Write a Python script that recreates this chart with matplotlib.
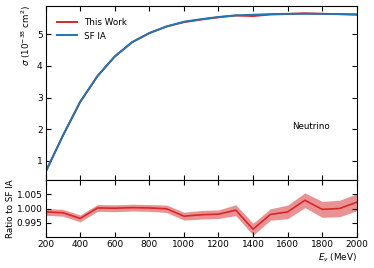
import numpy as np
import matplotlib
matplotlib.use("Agg")
import matplotlib.pyplot as plt

energy = [200, 300, 400, 500, 600, 700, 800, 900, 1000, 1100, 1200, 1300,
          1400, 1500, 1600, 1700, 1800, 1900, 2000]
sf_ia = [0.65, 1.80, 2.87, 3.68, 4.30, 4.75, 5.04, 5.25, 5.40, 5.48, 5.55,
         5.60, 5.62, 5.64, 5.65, 5.65, 5.65, 5.64, 5.62]
ratio = [0.9988, 0.9985, 0.9965, 1.0002, 1.0001, 1.0003, 1.0002, 0.9999,
         0.9973, 0.9978, 0.9980, 0.9994, 0.9927, 0.9979, 0.9988, 1.0029,
         0.9997, 1.0000, 1.0022]
ratio_err = [0.0012, 0.0012, 0.0012, 0.0012, 0.0012, 0.0012, 0.0012, 0.0013,
             0.0014, 0.0015, 0.0015, 0.0019, 0.0021, 0.0020, 0.0024, 0.0026,
             0.0028, 0.0029, 0.0030]

E = np.array(energy)
sf = np.array(sf_ia)
r = np.array(ratio)
re = np.array(ratio_err)
this_work = sf * r

red = '#d62728'
blue = '#1f77b4'
fs = 6.3

plt.rcParams['font.size'] = fs
fig = plt.figure(figsize=(3.74, 2.68), dpi=100)
ax1 = fig.add_axes([0.122, 0.328, 0.832, 0.650])
ax2 = fig.add_axes([0.122, 0.116, 0.832, 0.212], sharex=ax1)

ax1.plot(E, this_work, color=red, lw=1.4, label='This Work')
ax1.plot(E, sf, color=blue, lw=1.4, label='SF IA')
ax1.set_ylim(0.39, 5.9)
ax1.set_yticks([1, 2, 3, 4, 5])
ax1.set_ylabel(r'$\sigma$ ($10^{-38}$ cm$^2$)', fontsize=fs)
ax1.yaxis.set_label_coords(-0.041, 0.83)
ax1.text(1735, 2.08, 'Neutrino', ha='center', va='center', fontsize=fs)
ax1.legend(loc='upper left', frameon=False, fontsize=fs, handlelength=2.3,
           bbox_to_anchor=(0.01, 0.975))
ax1.tick_params(labelbottom=False)

ax2.fill_between(E, r - re, r + re, color=red, alpha=0.5, lw=0)
ax2.plot(E, r, color=red, lw=1.2)
ax2.set_ylim(0.990, 1.010)
ax2.set_yticks([0.995, 1.000, 1.005])
ax2.set_yticklabels(['0.995', '1.000', '1.005'])
ax2.set_ylabel('Ratio to SF IA', fontsize=fs)
ax2.yaxis.set_label_coords(-0.097, 0.5)
ax2.set_xlim(200, 2000)
ax2.set_xticks(range(200, 2001, 200))
ax2.set_xlabel(r'$E_\nu$ (MeV)', loc='right', fontsize=fs, labelpad=2)

for ax in (ax1, ax2):
    ax.tick_params(direction='in', top=True, right=True, length=3.5, width=0.8,
                   labelsize=6.5, pad=2.2)
    for s in ax.spines.values():
        s.set_linewidth(0.8)

fig.savefig('out.png', dpi=100)
